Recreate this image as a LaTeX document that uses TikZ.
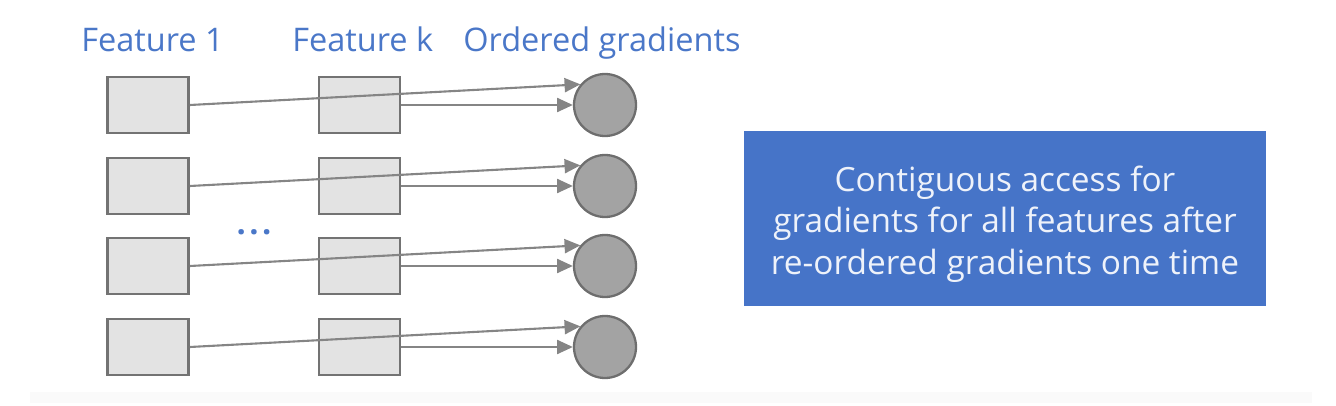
\documentclass[tikz,border=0pt]{standalone}
\usepackage{fontspec}
\setmainfont{Open Sans}
\usetikzlibrary{positioning, arrows.meta}

\definecolor{cellfill}{HTML}{E3E3E3}
\definecolor{cellborder}{HTML}{737373}
\definecolor{gradfill}{HTML}{A3A3A3}
\definecolor{gradborder}{HTML}{6E6E6E}
\definecolor{linkgray}{HTML}{858585}
\definecolor{labelblue}{HTML}{4A77C8}
\definecolor{notefill}{HTML}{4674C8}
\definecolor{notetext}{HTML}{EEF2FA}

\begin{document}
\begin{tikzpicture}[x=0.2mm, y=-0.2mm,
		myline/.style={draw=cellborder, line width=1.6pt},
		cell/.style={myline, fill=cellfill, minimum width=1.62cm, minimum height=1.12cm, inner sep=0pt},
		grad/.style={circle, draw=gradborder, line width=1.3pt, fill=gradfill, minimum size=1.24cm, inner sep=0pt},
		title/.style={anchor=base west, text=labelblue, font=\fontsize{18.5}{22}\selectfont, inner sep=0pt},
		link/.style={draw=linkgray, line width=1.2pt, -{Triangle[length=9pt, width=8pt]}},
		>=Stealth]
		
		\useasboundingbox (0,0) rectangle (1336,406);
		\fill [black!2] (30,392) rectangle (1312,403);
		
		\node[title] at (81,52)  (feat1) {Feature 1};
		\node[title] at (292,52) (featk) {Feature k};
		\node[title] at (463,52) (ordered) {Ordered gradients};
		
		\node[cell] at (148,105) (fa1) {};
		\node[cell] at (148,186) (fa2) {};
		\node[cell] at (148,266) (fa3) {};
		\node[cell] at (148,347) (fa4) {};
		
		\node[cell] at (359.5,105) (fk1) {};
		\node[cell] at (359.5,186) (fk2) {};
		\node[cell] at (359.5,266) (fk3) {};
		\node[cell] at (359.5,347) (fk4) {};
		
		\node[grad] at (605,105) (og1) {};
		\node[grad] at (605,186) (og2) {};
		\node[grad] at (605,266) (og3) {};
		\node[grad] at (605,347) (og4) {};
		
		\node[anchor=base, text=labelblue, font=\fontsize{18.5}{22}\selectfont\bfseries, inner sep=0pt] at (254,234) (dots) {.\hspace{2pt}.\hspace{2pt}.};
		
		\draw[link]  (fa1.east)--(og1.140);
		\draw[link]  (fk1.east)--(og1.west);
		\draw[link]  (fa2.east)--(og2.140);
		\draw[link]  (fk2.east)--(og2.west);
		\draw[link]  (fa3.east)--(og3.140);
		\draw[link]  (fk3.east)--(og3.west);
		\draw[link]  (fa4.east)--(og4.140);
		\draw[link]  (fk4.east)--(og4.west);
		
		\node[fill=notefill, minimum width=10.44cm, minimum height=3.5cm] at (1005,218.5) (note) {};
		\node[text=notetext, align=center, font=\fontsize{19}{23.6}\selectfont] at ([yshift=-1.1mm]note.center) (notetxt) {Contiguous access for\\gradients for all features after\\re-ordered gradients one time};
	\end{tikzpicture}
\end{document}
